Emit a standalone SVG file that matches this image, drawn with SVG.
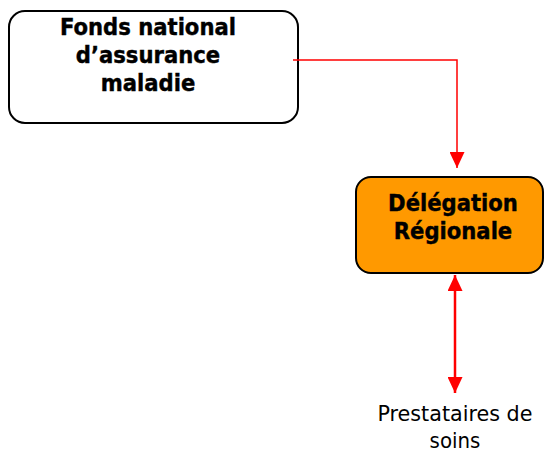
<svg xmlns="http://www.w3.org/2000/svg" width="544" height="452" viewBox="0 0 544 452">
  <style>
    .node { stroke: #000; stroke-width: 2; }
    .title { font-family: "DejaVu Sans Condensed", "DejaVu Sans", Verdana, sans-serif; font-weight: bold; font-size: 23.5px; text-anchor: middle; fill: #000; stroke: #000; stroke-width: 0.4; }
    .label { font-family: "DejaVu Sans Condensed", "DejaVu Sans", Verdana, sans-serif; font-size: 22px; text-anchor: middle; fill: #000; }
    .link { stroke: #ff0000; fill: none; }
  </style>
  <defs>
    <marker id="arrow" viewBox="0 0 16 15" refX="16" refY="7.5" markerWidth="16" markerHeight="15" markerUnits="userSpaceOnUse" orient="auto-start-reverse">
      <path d="M0,0 L16,7.5 L0,15 Z" fill="#ff0000"/>
    </marker>
  </defs>

  <g id="fonds-national">
    <rect class="node" x="9" y="11" width="289" height="112" rx="16" fill="#fff"/>
    <text class="title" x="148" y="35">Fonds national</text>
    <text class="title" x="148" y="63">d’assurance</text>
    <text class="title" x="148" y="91">maladie</text>
  </g>

  <g id="delegation-regionale">
    <rect class="node" x="356" y="177" width="187" height="96" rx="15" fill="#ff9900"/>
    <text class="title" x="453" y="211">Délégation</text>
    <text class="title" x="453" y="239">Régionale</text>
  </g>

  <g id="prestataires">
    <text class="label" x="455" y="421" textLength="155" lengthAdjust="spacingAndGlyphs">Prestataires de</text>
    <text class="label" x="455" y="448">soins</text>
  </g>

  <g id="connectors">
    <polyline class="link" stroke-width="1.5" points="293,60 457,60 457,168" marker-end="url(#arrow)"/>
    <line class="link" stroke-width="2.5" x1="455" y1="275" x2="455" y2="393" marker-start="url(#arrow)" marker-end="url(#arrow)"/>
  </g>
</svg>
